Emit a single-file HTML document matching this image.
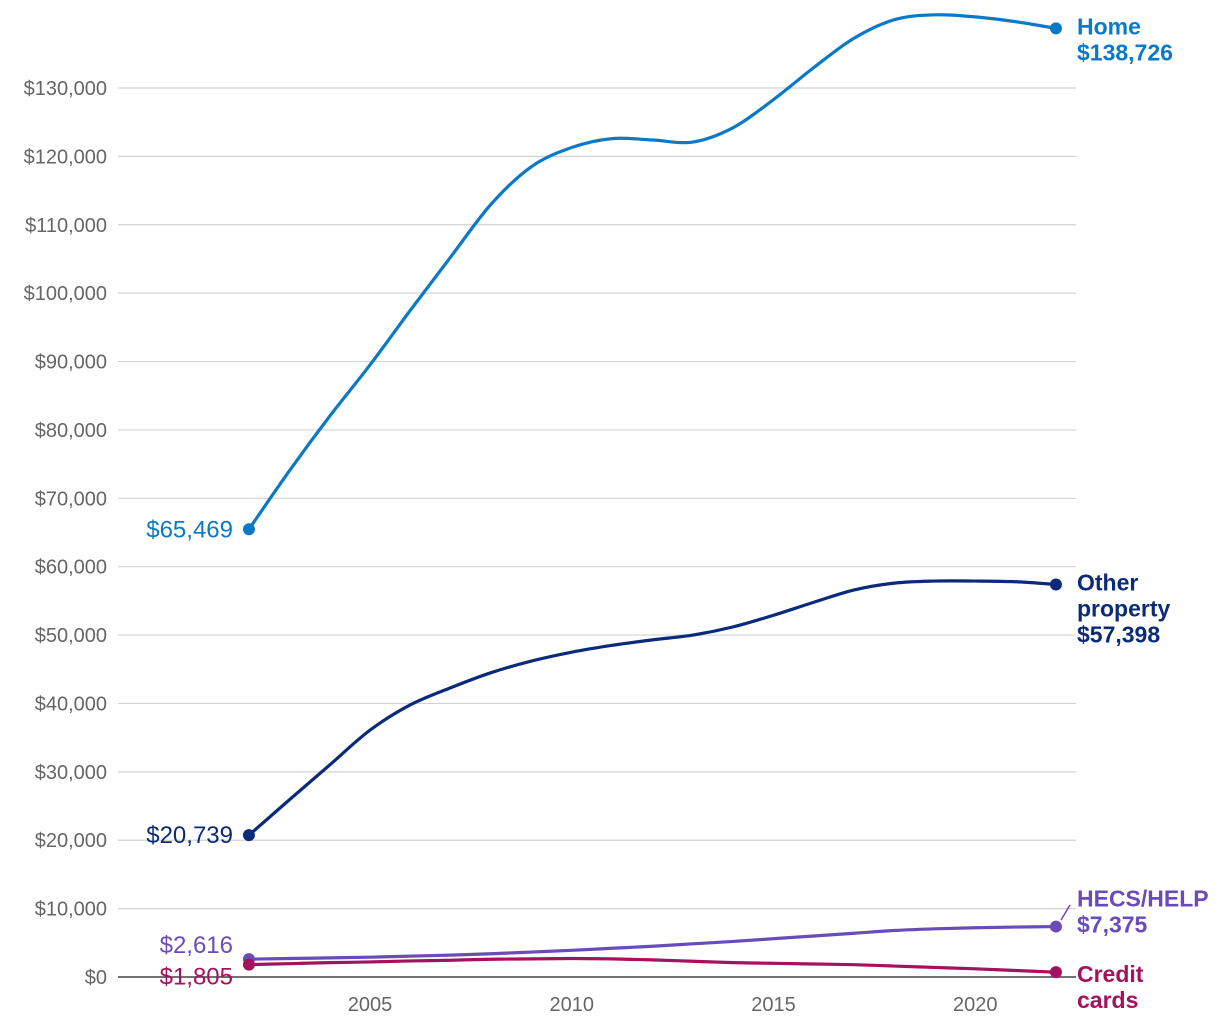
<!DOCTYPE html>
<html><head><meta charset="utf-8"><style>
html,body{margin:0;padding:0;background:#fff;}
svg{display:block;font-family:"Liberation Sans",sans-serif;}
</style></head><body>
<svg id="chart" width="1220" height="1024" viewBox="0 0 1220 1024"></svg>
<script>
const years=[2002,2003,2004,2005,2006,2007,2008,2009,2010,2011,2012,2013,2014,2015,2016,2017,2018,2019,2020,2021,2022];
const homeVals=[65469,74000,82000,89500,97500,105300,113000,118500,121300,122600,122400,122100,124200,128300,133000,137300,140000,140700,140400,139700,138726];
const otherVals=[20739,25900,31000,36100,39800,42300,44500,46200,47500,48500,49300,50000,51200,52900,54800,56600,57600,57900,57900,57800,57398];
const hecsVals=[2616,2700,2800,2900,3050,3200,3400,3650,3900,4200,4500,4850,5200,5600,6000,6400,6800,7050,7200,7300,7375];
const creditVals=[1805,1950,2100,2200,2350,2450,2600,2650,2700,2650,2500,2300,2100,2000,1900,1800,1600,1400,1200,950,705];
const yTicks=[0,10000,20000,30000,40000,50000,60000,70000,80000,90000,100000,110000,120000,130000];
const xTicks=[2005,2010,2015,2020];
const NS="http://www.w3.org/2000/svg";
const svg=document.getElementById('chart');
const X=v=>370+(v-2005)*40.35;
const Y=v=>977-v*(889/130000);
function el(t,a,p){const e=document.createElementNS(NS,t);for(const k in a)e.setAttribute(k,a[k]);(p||svg).appendChild(e);return e;}
yTicks.forEach(t=>{
  if(t>0){const g=el('line',{x1:118,x2:1076,y1:Y(t),y2:Y(t),stroke:'#d3d3d3','stroke-width':1.2});
  
  }
  const tx=el('text',{x:107,y:Y(t)+7,'text-anchor':'end','font-size':20,fill:'#666'});
  tx.textContent='$'+t.toLocaleString('en-US');
  
  
});
const ax=el('line',{x1:118,x2:1076,y1:977,y2:977,stroke:'#444','stroke-width':1.5});


xTicks.forEach(t=>{
  const tx=el('text',{x:X(t),y:1011,'text-anchor':'middle','font-size':20,fill:'#666'});
  tx.textContent=t;
  
  
});
function path(vals){
  const p=vals.map((v,i)=>[X(years[i]),Y(v)]);
  let d='M'+p[0][0]+','+p[0][1];
  for(let i=0;i<p.length-1;i++){
    const p0=p[i-1]||p[i],p1=p[i],p2=p[i+1],p3=p[i+2]||p2;
    const c1=[p1[0]+(p2[0]-p0[0])/6,p1[1]+(p2[1]-p0[1])/6];
    const c2=[p2[0]-(p3[0]-p1[0])/6,p2[1]-(p3[1]-p1[1])/6];
    d+=`C${c1[0]},${c1[1]} ${c2[0]},${c2[1]} ${p2[0]},${p2[1]}`;
  }
  return d;
}
const series=[
 {name:'home',vals:homeVals,c:'#0a7ac8',start:'$65,469',sy:0,end:['Home','$138,726'],ey:0},
 {name:'other-property',vals:otherVals,c:'#0a2a7a',start:'$20,739',sy:0,end:['Other','property','$57,398'],ey:0},
 {name:'hecs-help',vals:hecsVals,c:'#6a4cb8',start:'$2,616',sy:-14,end:['HECS/HELP','$7,375'],ey:-26},
 {name:'credit-cards',vals:creditVals,c:'#a3115f',start:'$1,805',sy:12,end:['Credit','cards'],ey:4}
];
series.forEach(s=>{
  const l=el('path',{d:path(s.vals),fill:'none',stroke:s.c,'stroke-width':3.2});
  
  
  const n=s.vals.length-1;
  [0,n].forEach(i=>{
    const c=el('circle',{cx:X(years[i]),cy:Y(s.vals[i]),r:6,fill:s.c});
    
    
  });
  const st=el('text',{x:233,y:Y(s.vals[0])+8+s.sy,'text-anchor':'end','font-size':24,fill:s.c});
  st.textContent=s.start;
  
  
  const ey=Y(s.vals[n])+s.ey;
  s.end.forEach((t,k)=>{
    const e=el('text',{x:1077,y:ey+6+k*26,'font-size':23,'font-weight':'bold',fill:s.c});
    e.textContent=t;
    
    
  });
});
const h=el('line',{x1:1061,y1:920,x2:1070,y2:905,stroke:'#6a4cb8','stroke-width':1.5});


</script>
</body></html>
